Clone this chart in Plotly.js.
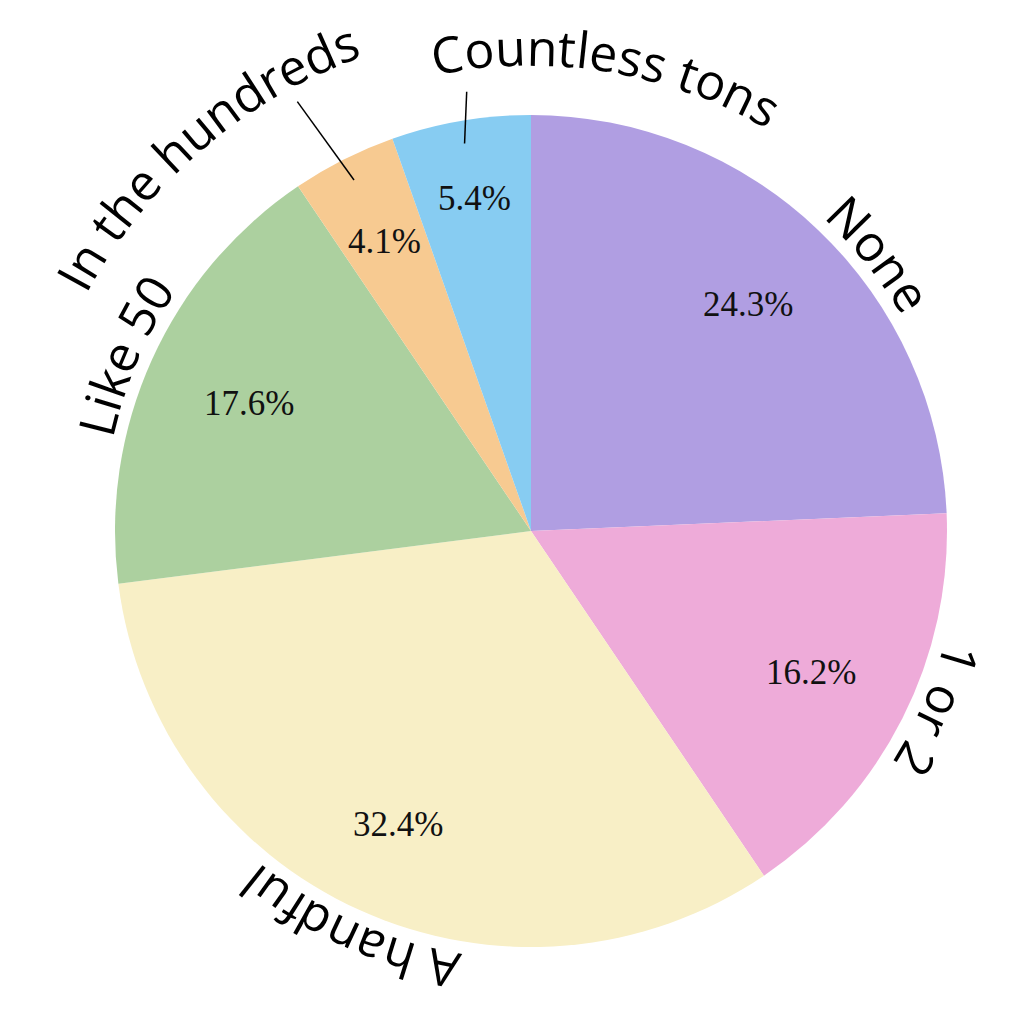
<!DOCTYPE html>
<html>
<head>
<meta charset="utf-8">
<script src="https://cdn.plot.ly/plotly-3.0.1.min.js"></script>
<style>html,body{margin:0;padding:0;background:#fff;}#chart{width:1021px;height:1023px;}</style>
</head>
<body>
<div id="chart"></div>
<script>
// ---- data ----
const categories = ['None', '1 or 2', 'A handful', 'Like 50', 'In the hundreds', 'Countless tons'];
const counts = [18, 12, 24, 13, 3, 4];
const sliceColors = ['#b09ee2', '#eeabd9', '#f8efc6', '#acd09f', '#f7ca91', '#87ccf2'];

// ---- styling / placement of curved labels (radius as fraction of pie radius, angular shift in deg) ----
const labelBaseline = [1.029, 1.029, 1.029, 1.029, 1.209, 1.118];
const labelShift = [7.7, -3, 0, -1, -14, 19];
const hasLeader = [false, false, false, false, true, true];
const leaderOuter = [0, 0, 0, 0, 1.175, 1.067];
const leaderTilt = [0, 0, 0, 0, -1.8, 1.4];
const pctRadius = [0.755, 0.755, 0.775, 0.745, 0.78, 0.81];

const W = 1021, H = 1023;
const margin = {l: 115, r: 74, t: 115, b: 76};
const plotW = W - margin.l - margin.r, plotH = H - margin.t - margin.b;
const Rpx = Math.min(plotW, plotH) / 2;

const labelFont = "'Open Sans', 'Noto Sans', sans-serif";
const labelSize = 50;
const pctFont = "'Liberation Serif', 'Times New Roman', serif";
const pctSize = 35;

const total = counts.reduce((a, b) => a + b, 0);
let cum = 0;
const midAngles = counts.map(v => { const m = (cum + v / 2) / total * 360; cum += v; return m; });

function toPaper(rpx, thetaDeg) {
  const t = thetaDeg * Math.PI / 180;
  return {x: 0.5 + rpx * Math.sin(t) / plotW, y: 0.5 + rpx * Math.cos(t) / plotH};
}

const canvas = document.createElement('canvas');
const ctx = canvas.getContext('2d');
ctx.font = labelSize + 'px ' + labelFont;

const annotations = [];
const shapes = [];

// percentage labels
counts.forEach((v, i) => {
  const p = toPaper(pctRadius[i] * Rpx, midAngles[i]);
  annotations.push({
    xref: 'paper', yref: 'paper', x: p.x, y: p.y, xanchor: 'center', yanchor: 'middle',
    text: (v / total * 100).toFixed(1) + '%', showarrow: false,
    font: {family: pctFont, size: pctSize, color: '#111'}
  });
});

// curved category labels
categories.forEach((name, i) => {
  const rBase = labelBaseline[i] * Rpx;
  const rCenter = rBase + 0.39 * labelSize;
  const widths = Array.from(name).map(ch => ctx.measureText(ch).width);
  const totalW = widths.reduce((a, b) => a + b, 0);
  const centerAng = midAngles[i] + labelShift[i];
  const spanDeg = totalW / rBase * 180 / Math.PI;
  let acc = 0;
  Array.from(name).forEach((ch, k) => {
    const ang = centerAng - spanDeg / 2 + (acc + widths[k] / 2) / rBase * 180 / Math.PI;
    acc += widths[k];
    if (ch === ' ') return;
    const p = toPaper(rCenter, ang);
    let ta = ((ang % 360) + 360) % 360;
    if (ta > 180) ta -= 360;
    annotations.push({
      xref: 'paper', yref: 'paper', x: p.x, y: p.y, xanchor: 'center', yanchor: 'middle',
      text: ch, showarrow: false, textangle: ta, borderpad: 0,
      font: {family: labelFont, size: labelSize, color: '#000'}
    });
  });
  if (hasLeader[i]) {
    const a = toPaper(0.945 * Rpx, midAngles[i]);
    const b = toPaper(leaderOuter[i] * Rpx, midAngles[i] + leaderTilt[i]);
    shapes.push({type: 'line', xref: 'paper', yref: 'paper', x0: a.x, y0: a.y, x1: b.x, y1: b.y,
      line: {color: '#000', width: 1.5}});
  }
});

const trace = {
  type: 'pie', values: counts, labels: categories, sort: false, direction: 'clockwise', rotation: 0,
  textinfo: 'none', textposition: 'none', hoverinfo: 'skip',
  marker: {colors: sliceColors, line: {width: 0}}
};

const layout = {
  width: W, height: H, margin: margin, showlegend: false,
  paper_bgcolor: '#ffffff', plot_bgcolor: '#ffffff',
  annotations: annotations, shapes: shapes
};

Plotly.newPlot('chart', [trace], layout, {displayModeBar: false, staticPlot: true});
</script>
</body>
</html>
